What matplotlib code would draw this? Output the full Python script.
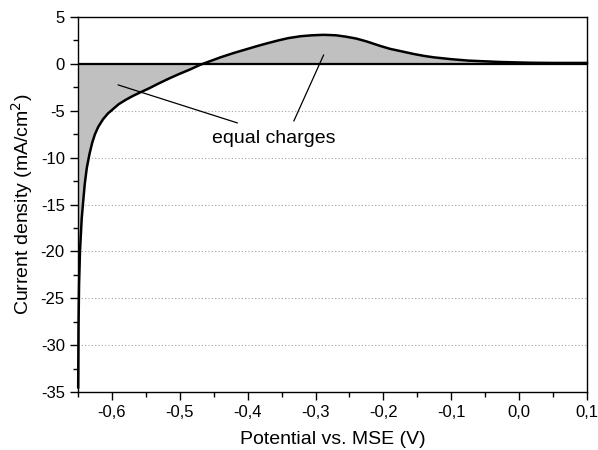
import matplotlib
matplotlib.use("Agg")
import matplotlib.pyplot as plt
import numpy as np
from matplotlib.ticker import MultipleLocator, FuncFormatter

plt.rcParams['font.family'] = ['Liberation Sans', 'DejaVu Sans']

potential = [-0.6497, -0.6492, -0.6484, -0.647, -0.6445, -0.6426, -0.64, -0.637, -0.633, -0.629,
             -0.625, -0.62, -0.613, -0.606, -0.598, -0.59, -0.58, -0.57, -0.56, -0.545,
             -0.53, -0.514, -0.5, -0.485, -0.47, -0.455, -0.44, -0.421, -0.4, -0.385,
             -0.371, -0.355, -0.34, -0.322, -0.305, -0.288, -0.27, -0.255, -0.24, -0.225,
             -0.204, -0.19, -0.174, -0.155, -0.14, -0.126, -0.1, -0.075, -0.05, -0.027,
             0.0, 0.018, 0.05, 0.075, 0.1]
current = [-34.5, -28.0, -23.5, -19.9, -16.5, -14.9, -12.8, -11.1, -9.6, -8.4,
           -7.5, -6.7, -5.9, -5.3, -4.8, -4.3, -3.85, -3.45, -3.1, -2.6,
           -2.05, -1.5, -1.05, -0.6, -0.1, 0.3, 0.7, 1.15, 1.6, 1.92,
           2.2, 2.5, 2.75, 2.95, 3.05, 3.1, 3.05, 2.9, 2.7, 2.4,
           1.9, 1.6, 1.35, 1.05, 0.85, 0.7, 0.5, 0.35, 0.27, 0.2,
           0.15, 0.12, 0.1, 0.1, 0.1]
fill_end = 0.018
grid_levels = [-30, -25, -20, -15, -10, -5]

x = np.array(potential)
y = np.array(current)

fig = plt.figure(figsize=(5.98, 4.5), dpi=100)
ax = fig.add_axes([0.1304, 0.1289, 0.8512, 0.8333])

for g in grid_levels:
    ax.axhline(g, color='#a0a0a0', lw=0.8, ls=(0, (1, 2)), zorder=0.5)

ax.fill_between(x, y, 0, where=x <= fill_end, color='#c0c0c0', lw=0, zorder=1)
ax.axhline(0, color='black', lw=1.6, zorder=2)
ax.plot(x, y, color='black', lw=1.8, zorder=3, clip_on=False)

ax.set_xlim(-0.65, 0.1)
ax.set_ylim(-35, 5)

ax.xaxis.set_major_locator(MultipleLocator(0.1))
ax.xaxis.set_minor_locator(MultipleLocator(0.05))
ax.yaxis.set_major_locator(MultipleLocator(5))
ax.yaxis.set_minor_locator(MultipleLocator(2.5))

def xfmt(v, pos):
    return ('%.1f' % v).replace('-0.0', '0.0').replace('.', ',')

ax.xaxis.set_major_formatter(FuncFormatter(xfmt))
ax.yaxis.set_major_formatter(FuncFormatter(lambda v, p: '%d' % round(v)))

ax.tick_params(which='both', direction='out', top=False, right=False, labelsize=12, width=1)
ax.tick_params(which='major', length=6)
ax.tick_params(which='minor', length=3.5)

for s in ax.spines.values():
    s.set_linewidth(1.0)

ax.set_xlabel('Potential vs. MSE (V)', fontsize=14, labelpad=8)
ax.set_ylabel('Current density (mA/cm$^2$)', fontsize=14, labelpad=4)

ax.text(-0.362, -8.0, 'equal charges', fontsize=14, ha='center', va='center', zorder=4)
ax.annotate('', xy=(-0.591, -2.24), xytext=(-0.415, -6.3),
            arrowprops=dict(arrowstyle='-', color='black', lw=0.9, shrinkA=0, shrinkB=0), zorder=4)
ax.annotate('', xy=(-0.288, 0.96), xytext=(-0.332, -6.1),
            arrowprops=dict(arrowstyle='-', color='black', lw=0.9, shrinkA=0, shrinkB=0), zorder=4)

fig.savefig('out.png', dpi=100)
